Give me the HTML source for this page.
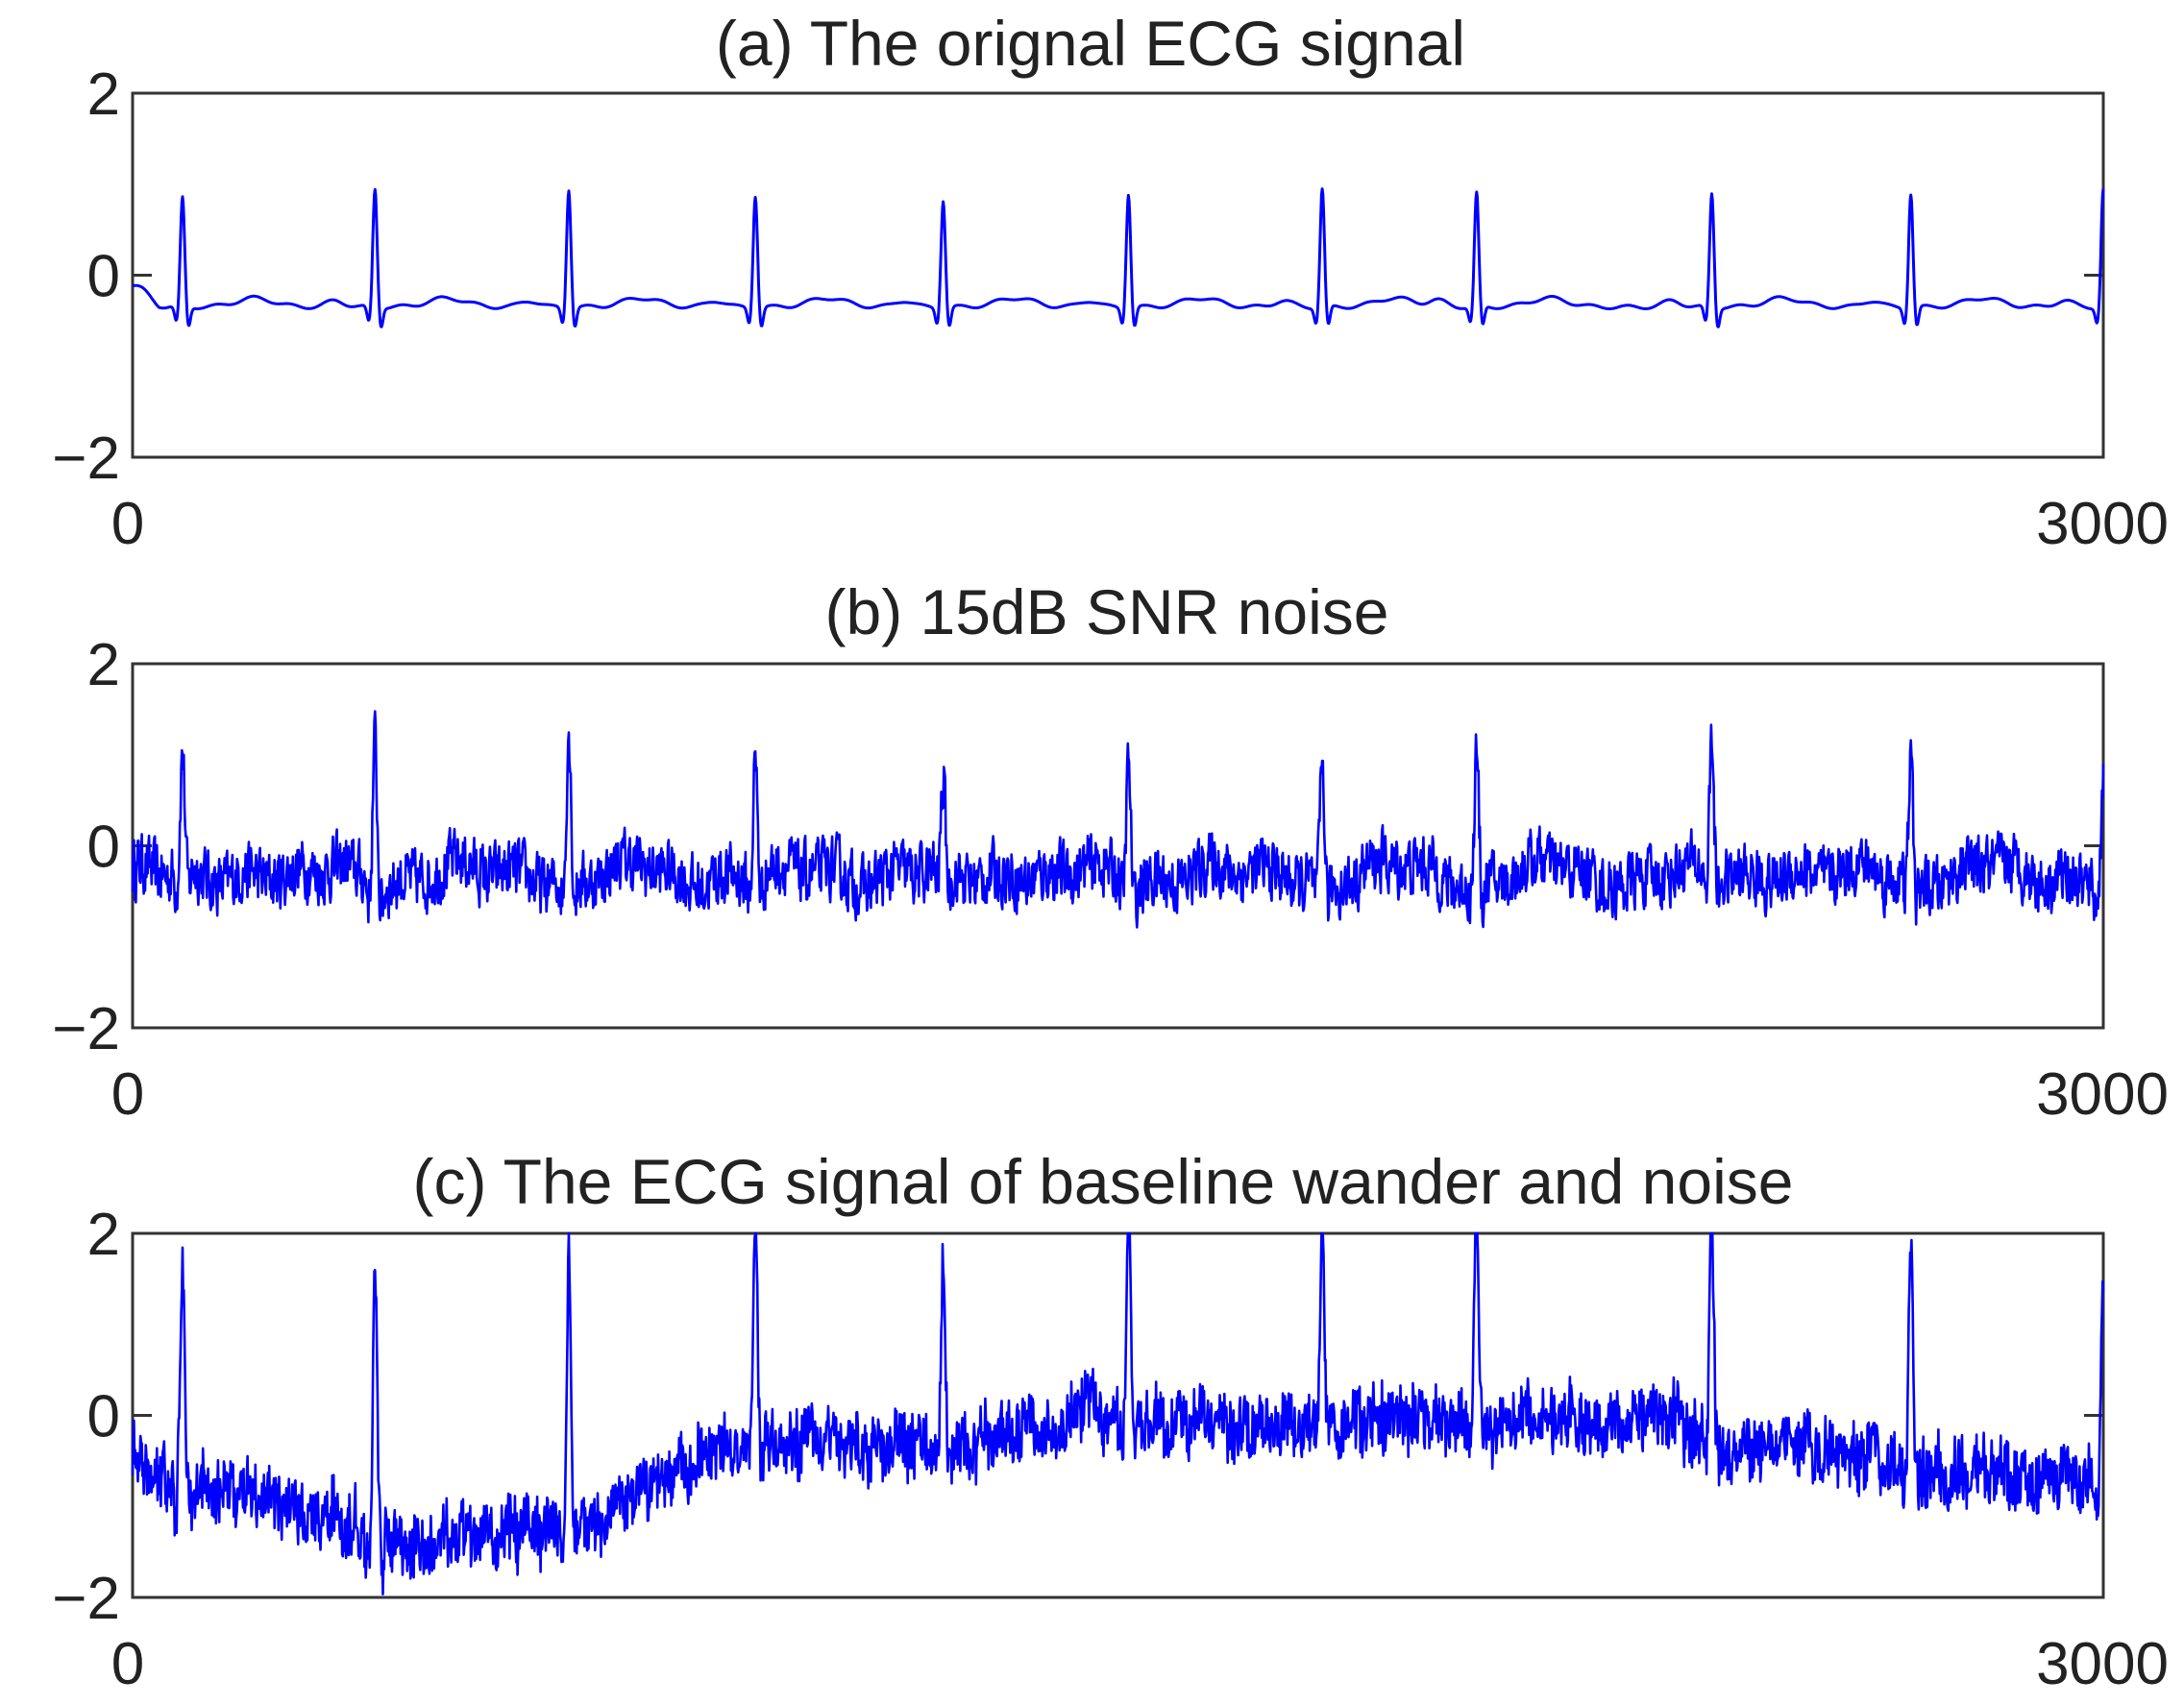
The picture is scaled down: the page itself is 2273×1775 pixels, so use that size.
<!DOCTYPE html>
<html><head><meta charset="utf-8"><style>
html,body{margin:0;padding:0;background:#fff;}
svg{display:block}
text{font-family:"Liberation Sans",Arial,sans-serif;fill:#222;}
</style></head><body>
<svg id="s" width="2273" height="1775" viewBox="0 0 2273 1775" xmlns="http://www.w3.org/2000/svg">
<text x="1135" y="68" font-size="66" text-anchor="middle">(a) The orignal ECG signal</text>
<text x="1152" y="660" font-size="66" text-anchor="middle">(b) 15dB SNR noise</text>
<text x="1148" y="1253" font-size="66" text-anchor="middle">(c) The ECG signal of baseline wander and noise</text>
</svg>
<script>
(function(){
var svg=document.getElementById('s'),NS='http://www.w3.org/2000/svg';
var L=138,R=2189;
var panels=[{t:97,b:476},{t:691,b:1070},{t:1284,b:1663}];
function el(n,a,txt){var e=document.createElementNS(NS,n);for(var k in a)e.setAttribute(k,a[k]);if(txt!==undefined)e.textContent=txt;svg.appendChild(e);return e;}
var seed=12345;function rnd(){seed=(seed*16807)%2147483647;return seed/2147483647;}
var beats=[76,369,664,948,1234,1516,1811,2046,2404,2707,3000];
var hA=[.85,.95,.95,.88,.83,.9,.95,.9,.9,.9,.95];
var hB=[.95,1.25,1.3,.95,.6,1.0,.95,1.05,1.15,.95,.9];
var tC=[1.6,1.5,1.75,2.3,1.7,2.3,2.3,2.3,2.3,1.9,1.7];
function g(x,m,s){var d=(x-m)/s;return Math.exp(-0.5*d*d);}
function ecg(i,h){var v=-0.35;for(var k=0;k<beats.length;k++){var b=beats[k];
 v+= (h[k]+0.35)*g(i,b,3.2) -0.18*g(i,b-9,3) -0.22*g(i,b+9,3) +0.1*g(i,b+110,28) +0.07*g(i,b-60,14);}
 return v;}
var wd=[[95,-0.5],[130,-0.8],[200,-1.0],[300,-1.5],[360,-1.3],[420,-1.2],[460,-0.9],[500,-0.5],[540,-0.3],[600,-0.35],[700,-0.35],[760,-0.2],[780,0.15],[800,-0.1],[850,-0.15],[1000,-0.1],[1100,-0.1],[1200,-0.05],[1230,-0.35],[1300,-0.4],[1350,-0.5],[1400,-0.7],[1510,-0.75]];
function wander(i){var xd=95+i/3000*1415;for(var k=0;k<wd.length-1;k++){if(xd<=wd[k+1][0]){var f=(xd-wd[k][0])/(wd[k+1][0]-wd[k][0]);return wd[k][1]+f*(wd[k+1][1]-wd[k][1]);}}return wd[wd.length-1][1];}
var hC=tC.map(function(t,k){return t-0.35-wander(beats[k]);});
var noise=[],sm=0;for(var i=0;i<=3000;i++){var r=(rnd()-0.5)*0.6;sm=0.35*sm+r;var slow=0.08*Math.sin(i/37)+0.06*Math.sin(i/13+1);noise.push(sm+slow);}
panels.forEach(function(p,pi){
 var zero=(p.t+p.b)/2,sc=(p.b-p.t)/4;
 el('rect',{x:L,y:p.t,width:R-L,height:p.b-p.t,fill:'none',stroke:'#333','stroke-width':3});
 [p.t,zero,p.b].forEach(function(y){el('line',{x1:L,y1:y,x2:L+20,y2:y,stroke:'#333','stroke-width':3});el('line',{x1:R-20,y1:y,x2:R,y2:y,stroke:'#333','stroke-width':3});});
 el('text',{x:125,y:p.t+22,'font-size':62,'text-anchor':'end'},'2');
 el('text',{x:125,y:zero+22,'font-size':62,'text-anchor':'end'},'0');
 el('text',{x:125,y:p.b+22,'font-size':62,'text-anchor':'end'},'\u22122');
 el('text',{x:133,y:p.b+90,'font-size':62,'text-anchor':'middle'},'0');
 el('text',{x:2257,y:p.b+90,'font-size':62,'text-anchor':'end'},'3000');
 var pts=[];
 for(var i=0;i<=3000;i++){var v;
  if(pi==0)v=ecg(i,hA)+0.02*Math.sin(i/9)+(i<40?0.2*(1-i/40):0);
  else if(pi==1)v=ecg(i,hB)+noise[i];
  else v=ecg(i,hC)+0.35+wander(i)+noise[(i*7)%3001];
  if(v>2)v=2;if(v<-2)v=-2;
  pts.push((L+i/3000*(R-L)).toFixed(1)+','+(zero-v*sc).toFixed(1));}
 el('polyline',{points:pts.join(' '),fill:'none',stroke:'#0000ff','stroke-width':pi==0?3:2.6,'stroke-linejoin':'round'});
});
})();
</script>
</body></html>
